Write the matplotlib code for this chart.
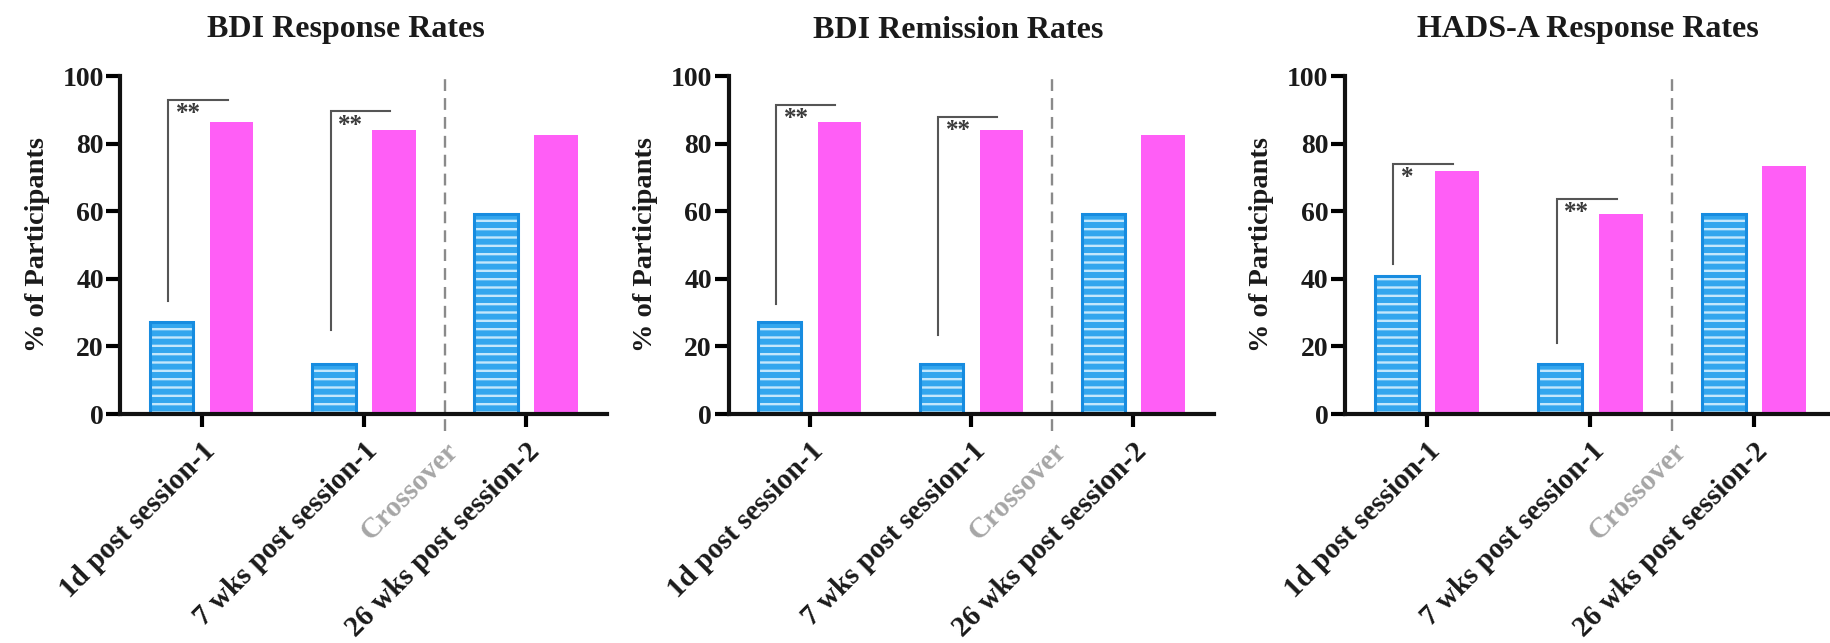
import matplotlib
matplotlib.use("Agg")
import matplotlib.pyplot as plt
import numpy as np

plt.rcParams['font.family'] = ['Liberation Serif', 'DejaVu Serif']
plt.rcParams['font.weight'] = 'bold'
plt.rcParams['axes.labelweight'] = 'bold'
plt.rcParams['hatch.linewidth'] = 1.7

# ---- data -------------------------------------------------------------
timepoints = ["1d post session-1", "7 wks post session-1", "26 wks post session-2"]
divider_label = "Crossover"
titles = ["BDI Response Rates", "BDI Remission Rates", "HADS-A Response Rates"]
ylabel = "% of Participants"

bdi_response_blue = [27.3, 14.8, 59.3]
bdi_response_pink = [86.4, 84.0, 82.6]
bdi_remission_blue = [27.3, 14.8, 59.3]
bdi_remission_pink = [86.4, 84.0, 82.6]
hads_response_blue = [40.7, 14.8, 59.3]
hads_response_pink = [72.0, 59.1, 73.5]

# significance marks: (group, stars)
bdi_response_sig = [(0, "**"), (1, "**")]
bdi_remission_sig = [(0, "**"), (1, "**")]
hads_response_sig = [(0, "*"), (1, "**")]

# ---- styling -----------------------------------------------------------
BLUE = "#33a6ee"
BLUE_EDGE = "#178ce0"
STRIPE = "#c4e7fc"
PINK = "#ff5ef6"
BRACKET = "#555555"
DASH = "#8a8a8a"
GREY_LABEL = "#a6a6a6"

W, H = 1830, 643
fig = plt.figure(figsize=(W / 100, H / 100), dpi=100)

# axes frames in pixels: (left, right) and the x-position of each title
frames = [(120.5, 607.0), (728.6, 1214.3), (1345.2, 1835.7)]
title_x = [346, 958, 1588]
y0_px, y100_px = 414, 76

bar_w = 0.27
off = 0.185

# bracket geometry per panel: (top of bracket, bottom of left leg)
bracket_levels = [
    [(93.0, 33.5), (89.5, 25.0)],
    [(91.5, 32.5), (88.0, 23.5)],
    [(74.0, 44.5), (63.5, 21.0)],
]

panels = [
    (bdi_response_blue, bdi_response_pink, bdi_response_sig),
    (bdi_remission_blue, bdi_remission_pink, bdi_remission_sig),
    (hads_response_blue, hads_response_pink, hads_response_sig),
]

for i, ((blue, pink, sig), (lpx, rpx)) in enumerate(zip(panels, frames)):
    ax = fig.add_axes([lpx / W, (H - y0_px) / H, (rpx - lpx) / W, (y0_px - y100_px) / H])
    x = np.arange(len(timepoints))

    # striped bars: fill + hatch, then outline on top
    ax.bar(x - off, blue, width=bar_w, color=BLUE, edgecolor=STRIPE,
           hatch='--', linewidth=0, zorder=2)
    ax.bar(x - off, blue, width=bar_w, fill=False, edgecolor=BLUE_EDGE,
           linewidth=2.2, zorder=3)
    ax.bar(x + off, pink, width=bar_w, color=PINK, linewidth=0, zorder=2)

    ax.set_xlim(-0.5, 2.5)
    ax.set_ylim(0, 100)
    ax.set_yticks(np.arange(0, 101, 20))
    ax.tick_params(axis='y', length=10, width=3, labelsize=20, pad=2,
                   labelcolor='#1a1a1a')
    ax.tick_params(axis='x', length=9, width=3, labelsize=21, pad=8,
                   labelcolor='#1a1a1a')

    ax.set_xticks([0, 1, 1.5, 2])
    ax.set_xticklabels([timepoints[0], timepoints[1], divider_label, timepoints[2]],
                       rotation=45, ha='right', rotation_mode='anchor')
    ax.get_xticklabels()[2].set_color(GREY_LABEL)
    ax.xaxis.get_major_ticks()[2].tick1line.set_visible(False)

    for side in ('top', 'right'):
        ax.spines[side].set_visible(False)
    for side in ('left', 'bottom'):
        ax.spines[side].set_linewidth(3)
        ax.spines[side].set_color('#111111')
        ax.spines[side].set_zorder(4)

    ax.set_ylabel(ylabel, fontsize=20.5, fontweight='bold', color='#1a1a1a')
    ax.yaxis.set_label_coords(-0.145, 0.5)

    # crossover divider
    ax.plot([1.5, 1.5], [-5, 101], color=DASH, lw=1.7, dashes=(5, 3),
            clip_on=False, zorder=1)

    # significance brackets
    for (g, stars), (top, bottom) in zip(sig, bracket_levels[i]):
        xl = g - 0.205
        xr = g + 0.16
        ax.plot([xl, xl, xr], [bottom, top, top], color=BRACKET, lw=1.5,
                solid_joinstyle='miter', zorder=3)
        ax.text(xl + 0.045, top - 0.6, stars, ha='left', va='top',
                fontsize=18, color='#3a3a3a', zorder=3)

    fig.text(title_x[i] / W, 1 - 30 / H, titles[i], ha='center', va='center',
             fontsize=23, fontweight='bold', color='#1a1a1a')

fig.savefig("out.png", dpi=100)
